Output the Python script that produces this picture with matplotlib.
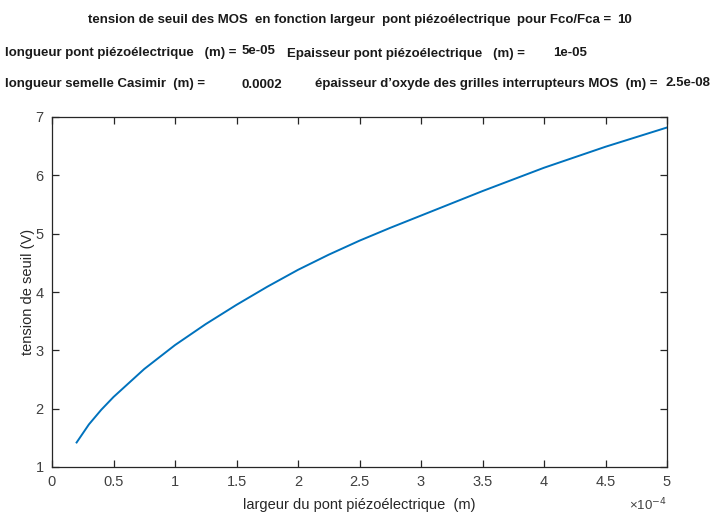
import matplotlib.pyplot as plt

# threshold voltage vs piezo bridge width (x in units of 1e-4 m)
largeur = [0.2, 0.3, 0.4, 0.5, 0.75, 1.0, 1.25, 1.5, 1.75, 2.0, 2.25, 2.5, 2.75,
           3.0, 3.5, 4.0, 4.5, 5.0]
tension = [1.42, 1.73, 1.98, 2.20, 2.68, 3.09, 3.45, 3.78, 4.09, 4.38, 4.64, 4.88, 5.10,
           5.31, 5.73, 6.13, 6.49, 6.82]

xticks = [0, 0.5, 1, 1.5, 2, 2.5, 3, 3.5, 4, 4.5, 5]
xticklabels = ['0', '0.5', '1', '1.5', '2', '2.5', '3', '3.5', '4', '4.5', '5']
yticks = [1, 2, 3, 4, 5, 6, 7]

W, H = 725, 514
fig = plt.figure(figsize=(W / 100, H / 100), dpi=100)
ax = fig.add_axes([52 / W, 1 - 467 / H, 615 / W, 350 / H])

ax.plot(largeur, tension, color='#0072BD', lw=1.4)
ax.set_xlim(0, 5)
ax.set_ylim(1, 7)
ax.set_xticks(xticks)
ax.set_xticklabels(xticklabels)
ax.set_yticks(yticks)

for s in ax.spines.values():
    s.set_color('#262626')
    s.set_linewidth(0.9)
ax.tick_params(direction='in', top=True, right=True, length=5, width=0.9,
               color='#262626', labelcolor='#404040', labelsize=10.5, pad=6)

lab = dict(family=['Liberation Sans', 'DejaVu Sans'], fontsize=10.5, color='#262626')
for t in ax.get_xticklabels() + ax.get_yticklabels():
    t.set_family(['Liberation Sans', 'DejaVu Sans'])
ax.set_xlabel('largeur du pont piézoélectrique  (m)', **lab)
ax.set_ylabel('tension de seuil (V)', **lab)
ax.xaxis.set_label_coords(0.5, -(505 - 467) / 350)
ax.yaxis.set_label_coords(-(52 - 28) / 615, 0.5)
ax.xaxis.label.set_va('center')
ax.yaxis.label.set_va('center')
fig.text(667 / W, 1 - 505 / H, '×10$^{-4}$', ha='right', va='center',
         fontsize=9.5, color='#404040', family=['Liberation Sans', 'DejaVu Sans'])

# header lines (x start in px, y centre in px, text)
head = dict(family=['Liberation Sans Narrow', 'Liberation Sans', 'DejaVu Sans'],
            fontweight='bold', fontsize=9.5, color='#1a1a1a', va='center', ha='left')
segments = [
    (88, 20, 'tension de seuil des MOS  en fonction largeur  pont piézoélectrique'),
    (517, 20, 'pour Fco/Fca ='),
    (617, 20, '10'),
    (5, 53, 'longueur pont piézoélectrique   (m) ='),
    (242, 51, '5e-05'),
    (287, 54, 'Epaisseur pont piézoélectrique   (m) ='),
    (553, 53, '1e-05'),
    (5, 84, 'longueur semelle Casimir  (m) ='),
    (241, 85, '0.0002'),
    (315, 84, 'épaisseur d’oxyde des grilles interrupteurs MOS  (m) ='),
    (666, 83, '2.5e-08'),
]
for x, y, s in segments:
    fig.text(x / W, 1 - y / H, s, **head)

fig.savefig('out.png', dpi=100)
